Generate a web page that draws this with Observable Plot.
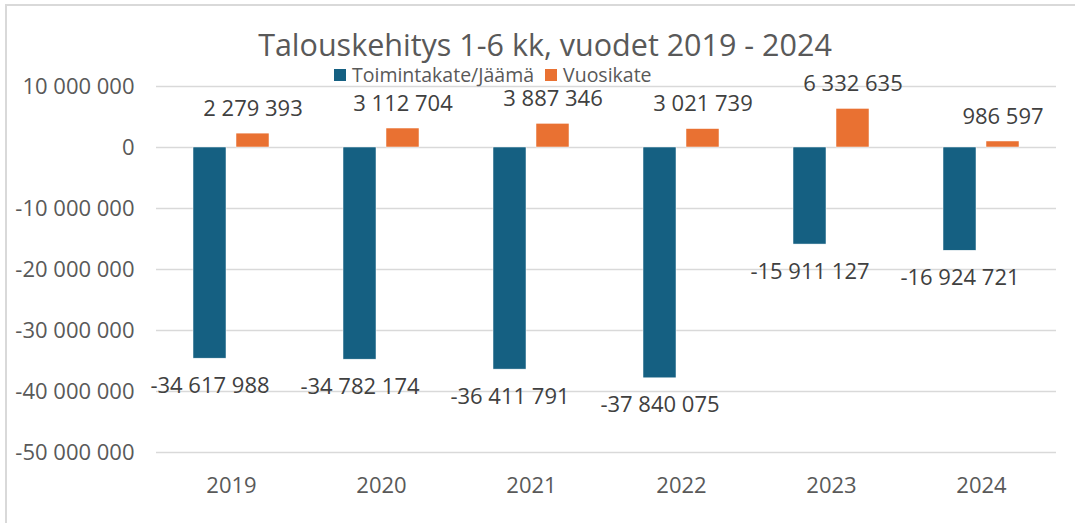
<!DOCTYPE html>
<html>
<head>
<meta charset="utf-8">
<script src="https://cdn.jsdelivr.net/npm/d3@7"></script>
<script src="https://cdn.jsdelivr.net/npm/@observablehq/plot@0.6"></script>
<style>
  body { margin: 0; background: #fff; }
  #wrap { position: relative; width: 1075px; height: 523px; overflow: hidden; font-family: "Open Sans", sans-serif; }
  #frame { position: absolute; left: 5px; top: 4px; width: 1200px; height: 700px; border-left: 2px solid #d9d9d9; border-top: 2px solid #d9d9d9; }
  #title { position: absolute; left: 0; top: 29px; width: 1090px; text-align: center; font-size: 30.5px; line-height: 30px; color: #595959; z-index: 2; white-space: nowrap; }
  #legend { position: absolute; left: 334px; top: 65px; font-size: 19.5px; line-height: 19px; color: #595959; z-index: 2; white-space: nowrap; display: flex; align-items: center; }
  #legend .sw { display: inline-block; width: 12px; height: 12px; margin-right: 6px; }
  #legend .item { display: inline-flex; align-items: center; margin-right: 11px; }
  #chart { position: absolute; left: 0; top: 0; z-index: 1; }
</style>
</head>
<body>
<div id="wrap">
  <div id="frame"></div>
  <div id="title">Talouskehitys 1-6 kk, vuodet 2019 - 2024</div>
  <div id="legend"></div>
  <div id="chart"></div>
</div>
<script>
const years = ["2019", "2020", "2021", "2022", "2023", "2024"];
const seriesNames = ["Toimintakate/Jäämä", "Vuosikate"];
const toimintakate = [-34617988, -34782174, -36411791, -37840075, -15911127, -16924721];
const vuosikate = [2279393, 3112704, 3887346, 3021739, 6332635, 986597];
const yTicks = [10000000, 0, -10000000, -20000000, -30000000, -40000000, -50000000];
const colors = ["#156082", "#E97132"];

const fmt = n => d3.format(",")(n).replace(/,/g, " ").replace("−", "-");

const data = [];
years.forEach((yr, i) => {
  data.push({year: yr, series: seriesNames[0], value: toimintakate[i]});
  data.push({year: yr, series: seriesNames[1], value: vuosikate[i]});
});

// legend
const legend = document.getElementById("legend");
seriesNames.forEach((s, i) => {
  const it = document.createElement("span");
  it.className = "item";
  const sw = document.createElement("span");
  sw.className = "sw";
  sw.style.background = colors[i];
  it.appendChild(sw);
  it.appendChild(document.createTextNode(s));
  legend.appendChild(it);
});

const chart = Plot.plot({
  width: 1075,
  height: 523,
  marginTop: 86,
  marginBottom: 71,
  marginLeft: 155,
  marginRight: 18,
  style: { fontFamily: "'Open Sans', sans-serif", fontSize: "22px", color: "#595959", background: "transparent" },
  fx: { domain: years, padding: 0, label: null },
  x: { domain: seriesNames, paddingInner: 0.227, paddingOuter: 0.82, axis: null },
  y: { domain: [-50000000, 10000000], label: null },
  color: { domain: seriesNames, range: colors },
  marks: [
    Plot.ruleY(yTicks, { stroke: "#d9d9d9", strokeWidth: 1.5 }),
    Plot.axisY({ ticks: yTicks, tickFormat: fmt, tickSize: 0, tickPadding: 22, label: null, fontSize: 22 }),
    Plot.axisFx({ anchor: "bottom", tickSize: 0, tickPadding: 25, label: null, fontSize: 22 }),
    Plot.barY(data, { fx: "year", x: "series", y: "value", fill: "series", stroke: "#ffffff", strokeWidth: 0.5 }),
    Plot.text(data.filter(d => d.value >= 0), { fx: "year", x: "series", y: "value", text: d => fmt(d.value), dy: -25, fill: "#404040", fontSize: 22 }),
    Plot.text(data.filter(d => d.value < 0), { fx: "year", x: "series", y: "value", text: d => fmt(d.value), dy: 27, fill: "#404040", fontSize: 22 })
  ]
});
document.getElementById("chart").appendChild(chart);
</script>
</body>
</html>
